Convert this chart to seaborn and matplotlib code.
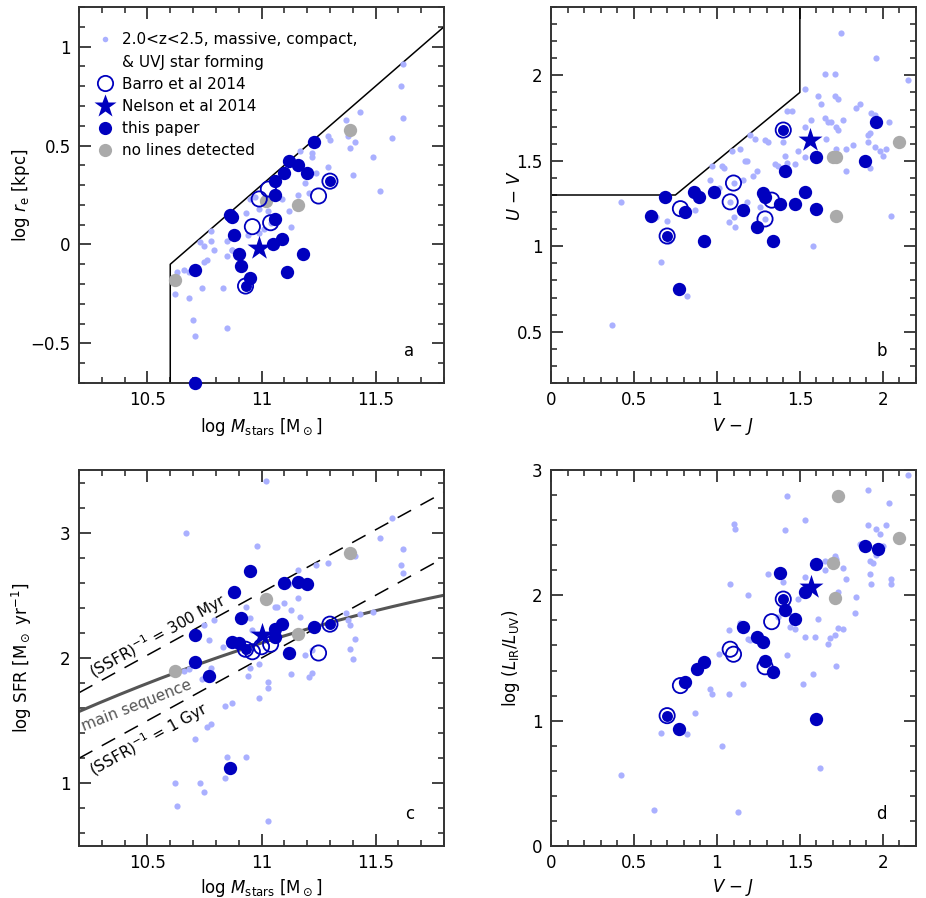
import numpy as np
import matplotlib
matplotlib.use("Agg")
import matplotlib.pyplot as plt
import seaborn as sns
from matplotlib.lines import Line2D
from matplotlib.ticker import MultipleLocator, FuncFormatter

# ---------------- data ----------------
# panel a : log M vs log r_e
a_dot_x = [11.62, 11.61, 11.62, 11.57, 11.49, 11.52, 11.40, 11.43, 11.37, 11.41, 11.39, 11.38, 11.29, 11.30, 11.22,
           11.22, 11.29, 11.24, 11.19, 11.21, 11.16, 11.09, 11.12, 11.13, 11.03, 10.99, 10.97, 10.95, 10.93, 11.01,
           11.04, 10.94, 10.99, 10.87, 11.17, 10.78, 10.73, 10.78, 10.75, 10.79, 10.85, 10.87, 10.85, 10.76, 10.75,
           10.66, 10.63, 10.68, 10.62, 10.68, 10.74, 10.83, 10.70, 10.71, 10.85]
a_dot_y = [0.91, 0.80, 0.64, 0.54, 0.44, 0.27, 0.35, 0.67, 0.63, 0.52, 0.49, 0.55, 0.55, 0.53, 0.46,
           0.44, 0.39, 0.36, 0.31, 0.26, 0.25, 0.23, 0.17, 0.09, 0.17, 0.18, 0.24, 0.23, 0.16, 0.08,
           0.11, 0.05, 0.06, -0.03, 0.47, 0.07, 0.01, 0.02, -0.01, -0.03, 0.02, -0.03, -0.06, -0.08, -0.09,
           -0.13, -0.14, -0.14, -0.25, -0.27, -0.22, -0.22, -0.38, -0.46, -0.42]
a_fill_x = [11.23, 11.12, 11.16, 11.10, 11.20, 11.06, 11.06, 10.86, 10.87, 11.06, 10.88, 11.09, 11.05, 10.90,
            11.18, 10.91, 11.11, 10.71, 10.95, 10.71]
a_fill_y = [0.52, 0.42, 0.40, 0.36, 0.36, 0.32, 0.25, 0.15, 0.14, 0.13, 0.05, 0.03, 0.00, -0.05,
            -0.05, -0.11, -0.14, -0.13, -0.17, -0.70]
a_ring_x = [10.93, 11.30]
a_ring_y = [-0.21, 0.32]
a_open_x = [11.03, 10.99, 10.96, 11.04, 11.25]
a_open_y = [0.28, 0.23, 0.09, 0.11, 0.245]
a_gray_x = [10.62, 11.02, 11.16, 11.39]
a_gray_y = [-0.18, 0.22, 0.20, 0.58]
a_star_x = [10.99]
a_star_y = [-0.02]

# panel b : V-J vs U-V
b_dot_x = [1.75, 1.96, 2.15, 1.65, 1.71, 1.53, 1.61, 1.71, 1.73, 1.63,
           1.84, 1.86, 1.93, 1.95, 2.04, 1.57, 1.65, 1.67, 1.69, 1.76,
           1.72, 1.73, 1.53, 1.42, 1.45, 1.66, 1.92, 1.91, 1.91, 1.82,
           1.78, 1.72, 1.95, 1.98, 2.02, 2.00, 1.92, 1.78, 1.49, 1.53,
           1.40, 1.41, 1.42, 1.35, 1.37, 1.47, 1.29, 1.31, 1.23, 1.20,
           1.14, 1.09, 1.17, 1.18, 1.24, 1.22, 1.16, 1.04, 0.97, 0.96,
           1.01, 1.18, 1.26, 1.10, 1.07, 1.11, 2.05, 1.58, 0.42, 0.63,
           0.70, 0.87, 1.03, 0.71, 0.66, 0.82, 0.37, 1.08, 1.29, 1.10]
b_dot_y = [2.25, 2.10, 1.97, 2.01, 2.01, 1.92, 1.88, 1.88, 1.86, 1.83,
           1.81, 1.83, 1.78, 1.77, 1.73, 1.74, 1.75, 1.73, 1.73, 1.74,
           1.70, 1.68, 1.70, 1.79, 1.79, 1.63, 1.66, 1.65, 1.61, 1.59,
           1.57, 1.57, 1.58, 1.56, 1.57, 1.53, 1.46, 1.44, 1.56, 1.52,
           1.61, 1.53, 1.49, 1.48, 1.47, 1.48, 1.62, 1.61, 1.63, 1.65,
           1.57, 1.56, 1.50, 1.50, 1.44, 1.41, 1.39, 1.46, 1.47, 1.39,
           1.34, 1.26, 1.23, 1.17, 1.14, 1.11, 1.18, 1.00, 1.26, 1.17,
           1.15, 1.21, 1.47, 1.03, 0.91, 0.71, 0.54, 1.26, 1.16, 1.37]
b_fill_x = [1.96, 1.60, 1.89, 1.41, 0.98, 1.28, 1.29, 1.53, 1.47, 1.38, 1.16, 1.60, 1.24, 0.92, 1.34,
            0.69, 0.86, 0.89, 0.81, 0.60, 0.77]
b_fill_y = [1.73, 1.52, 1.50, 1.44, 1.32, 1.31, 1.29, 1.32, 1.25, 1.25, 1.21, 1.22, 1.11, 1.03, 1.03,
            1.29, 1.32, 1.29, 1.20, 1.18, 0.75]
b_ring_x = [1.40, 0.70]
b_ring_y = [1.68, 1.06]
b_open_x = [1.10, 1.08, 1.33, 1.29, 0.78]
b_open_y = [1.37, 1.26, 1.27, 1.16, 1.22]
b_gray_x = [1.70, 1.72, 2.10, 1.72]
b_gray_y = [1.52, 1.52, 1.61, 1.18]
b_star_x = [1.56]
b_star_y = [1.62]

# panel c : log M vs log SFR
c_dot_x = [10.67, 10.98, 10.93, 10.95, 10.79, 10.75, 10.77, 10.96, 10.83, 10.66, 10.68, 10.74, 10.78, 10.84,
           10.87, 10.78, 10.76, 10.71, 10.85, 10.93, 10.84, 10.62, 10.73, 10.75, 10.63, 10.95, 10.94, 10.99,
           11.02, 11.16, 11.24, 11.29, 11.12, 11.16, 11.06, 11.07, 11.10, 11.13, 11.17, 10.99, 11.13, 11.19,
           11.22, 11.22, 11.21, 11.03, 11.03, 11.57, 11.52, 11.62, 11.61, 11.62, 11.41, 11.37, 11.38, 11.39,
           11.43, 11.49, 11.41, 11.39, 11.40, 11.03]
c_dot_y = [3.00, 2.89, 2.41, 2.32, 2.30, 2.26, 2.14, 2.22, 2.09, 1.90, 1.91, 1.83, 1.92, 1.62,
           1.64, 1.47, 1.45, 1.35, 1.21, 1.21, 1.04, 1.00, 1.00, 0.93, 0.82, 1.92, 1.86, 1.68,
           3.41, 2.70, 2.74, 2.76, 2.59, 2.48, 2.41, 2.41, 2.44, 2.38, 2.33, 1.95, 1.87, 2.02,
           2.06, 1.88, 1.85, 1.81, 1.76, 3.12, 2.96, 2.87, 2.74, 2.68, 2.81, 2.36, 2.30, 2.26,
           2.35, 2.37, 2.15, 2.07, 1.99, 0.70]
c_fill_x = [10.95, 10.88, 10.91, 10.71, 10.71, 10.77, 10.86, 10.87, 10.90, 11.10, 11.16, 11.20, 11.09,
            11.06, 11.06, 11.23, 11.12]
c_fill_y = [2.695, 2.53, 2.32, 2.18, 1.97, 1.86, 1.12, 2.13, 2.12, 2.60, 2.61, 2.59, 2.27,
            2.23, 2.17, 2.25, 2.04]
c_ring_x = [10.93, 11.30]
c_ring_y = [2.07, 2.27]
c_open_x = [11.25, 10.96, 11.00, 11.04]
c_open_y = [2.04, 2.05, 2.09, 2.11]
c_gray_x = [10.62, 11.02, 11.39, 11.16]
c_gray_y = [1.90, 2.47, 2.84, 2.19]
c_star_x = [11.00]
c_star_y = [2.18]

# panel d : V-J vs log(L_IR/L_UV)
d_dot_x = [2.15, 1.42, 1.91, 2.04, 1.53, 1.10, 1.11, 1.41, 1.91, 2.02, 1.96, 1.98, 1.86, 2.00, 1.96, 1.92, 1.94,
           1.65, 1.71, 1.72, 1.76, 1.65, 1.92, 1.78, 1.93, 2.05, 2.05, 1.40, 1.31, 1.08, 1.53, 1.73, 1.49, 1.19,
           1.84, 1.83, 1.61, 1.44, 1.47, 1.37, 1.14, 1.07, 1.19, 1.20, 1.01, 1.53, 1.59, 1.68, 1.71, 1.73, 1.76,
           1.67, 1.42, 1.72, 1.58, 1.52, 1.16, 0.96, 0.97, 1.07, 0.87, 0.66, 0.82, 1.03, 0.42, 0.62, 1.13, 1.62]
d_dot_y = [2.96, 2.79, 2.84, 2.74, 2.60, 2.57, 2.53, 2.52, 2.56, 2.56, 2.53, 2.49, 2.41, 2.39, 2.32, 2.27, 2.26,
           2.27, 2.31, 2.29, 2.22, 2.20, 2.17, 2.13, 2.09, 2.13, 2.09, 2.11, 2.17, 2.09, 2.15, 2.03, 1.97, 2.00,
           1.99, 1.86, 1.81, 1.75, 1.73, 1.83, 1.78, 1.72, 1.65, 1.64, 1.53, 1.67, 1.67, 1.66, 1.68, 1.74, 1.73,
           1.61, 1.52, 1.44, 1.37, 1.29, 1.29, 1.25, 1.21, 1.21, 1.06, 0.90, 0.89, 0.80, 0.57, 0.29, 0.27, 0.62]
d_fill_x = [1.89, 1.97, 1.60, 1.38, 1.53, 1.41, 1.47, 1.16, 1.24, 1.28, 1.29, 1.34, 0.92, 0.88, 0.81, 0.77, 1.60]
d_fill_y = [2.39, 2.37, 2.25, 2.18, 2.03, 1.88, 1.81, 1.75, 1.67, 1.63, 1.48, 1.39, 1.47, 1.41, 1.31, 0.93, 1.01]
d_ring_x = [1.40, 0.70]
d_ring_y = [1.97, 1.04]
d_open_x = [0.78, 1.08, 1.10, 1.33, 1.29]
d_open_y = [1.28, 1.57, 1.53, 1.79, 1.43]
d_gray_x = [1.73, 2.10, 1.70, 1.71]
d_gray_y = [2.79, 2.46, 2.26, 1.98]
d_star_x = [1.57]
d_star_y = [2.07]

# model lines (panel c)
ssfr_300myr = np.log10(3e8)
ssfr_1gyr = 9.0
ms_a, ms_b, ms_c = -19.99, 3.44, -0.13   # main sequence polynomial, 2.0<z<2.5

# ---------------- style ----------------
sns.set_style("ticks")
plt.rcParams.update({
    "font.family": ["DejaVu Sans"],
    "font.size": 12,
    "text.color": "black",
    "axes.labelcolor": "black",
    "axes.linewidth": 1.4,
    "axes.edgecolor": "#333333",
    "xtick.direction": "in", "ytick.direction": "in",
    "xtick.top": True, "ytick.right": True,
    "xtick.major.size": 8.5, "ytick.major.size": 8.5,
    "xtick.minor.size": 4.2, "ytick.minor.size": 4.2,
    "xtick.major.width": 1.3, "ytick.major.width": 1.3,
    "xtick.minor.width": 1.2, "ytick.minor.width": 1.2,
    "xtick.color": "#333333", "ytick.color": "#333333",
    "xtick.labelcolor": "black", "ytick.labelcolor": "black",
    "xtick.labelsize": 12, "ytick.labelsize": 12,
    "xtick.major.pad": 6, "ytick.major.pad": 6,
})

LIGHT = "#aab0ff"
BLUE = "#0000be"
GRAY = "#aaaaaa"

fig = plt.figure(figsize=(9.26, 8.98), dpi=100)
W, H = 926, 898
def axes_px(l, t, r, b):
    return fig.add_axes([l / W, 1 - b / H, (r - l) / W, (b - t) / H])

ax_a = axes_px(79, 7, 444, 383)
ax_b = axes_px(551, 7, 916, 383)
ax_c = axes_px(79, 470, 444, 846)
ax_d = axes_px(551, 470, 916, 846)

fmt = FuncFormatter(lambda v, p: f"{v:g}".replace("-", "\u2212"))


def draw(ax, dx, dy, fx, fy, rx, ry, ox, oy, gx, gy, sx, sy):
    sns.scatterplot(x=dx, y=dy, ax=ax, color=LIGHT, s=20, linewidth=0, zorder=2)
    sns.scatterplot(x=gx, y=gy, ax=ax, color=GRAY, s=92, linewidth=0, zorder=3)
    sns.scatterplot(x=fx, y=fy, ax=ax, color=BLUE, s=92, linewidth=0, zorder=4, clip_on=False)
    sns.scatterplot(x=rx, y=ry, ax=ax, color=BLUE, s=62, linewidth=0, zorder=4)
    ax.scatter(ox + rx, oy + ry, s=120, facecolors="none", edgecolors=BLUE, linewidths=1.3, zorder=5)
    sns.scatterplot(x=sx, y=sy, ax=ax, color=BLUE, marker="*", s=330, linewidth=0, zorder=6)


draw(ax_a, a_dot_x, a_dot_y, a_fill_x, a_fill_y, a_ring_x, a_ring_y, a_open_x, a_open_y,
     a_gray_x, a_gray_y, a_star_x, a_star_y)
draw(ax_b, b_dot_x, b_dot_y, b_fill_x, b_fill_y, b_ring_x, b_ring_y, b_open_x, b_open_y,
     b_gray_x, b_gray_y, b_star_x, b_star_y)
draw(ax_c, c_dot_x, c_dot_y, c_fill_x, c_fill_y, c_ring_x, c_ring_y, c_open_x, c_open_y,
     c_gray_x, c_gray_y, c_star_x, c_star_y)
draw(ax_d, d_dot_x, d_dot_y, d_fill_x, d_fill_y, d_ring_x, d_ring_y, d_open_x, d_open_y,
     d_gray_x, d_gray_y, d_star_x, d_star_y)

# selection boxes
ax_a.plot([10.6, 10.6, 11.8], [-0.7, -0.1, 1.1], color="black", lw=1.1, zorder=1)
ax_b.plot([0, 0.75, 1.5, 1.5], [1.3, 1.3, 1.9, 2.4], color="black", lw=1.1, zorder=1)

# panel c lines
mgrid = np.linspace(10.2, 11.8, 200)
ax_c.plot(mgrid, mgrid - ssfr_300myr, color="black", lw=1.1, ls=(0, (10, 7)), zorder=1)
ax_c.plot(mgrid, mgrid - ssfr_1gyr, color="black", lw=1.1, ls=(0, (10, 7)), zorder=1)
ax_c.plot(mgrid, ms_a + ms_b * mgrid + ms_c * mgrid ** 2, color="#555555", lw=2.2, zorder=1)
ax_c.text(10.557, 2.135, "(SSFR)$^{-1}$ = 300 Myr", rotation=29, ha="center", va="baseline",
          rotation_mode="anchor", fontsize=11)
ax_c.text(10.462, 1.59, "main sequence", rotation=21.5, ha="center", va="baseline",
          rotation_mode="anchor", fontsize=11, color="#555555")
ax_c.text(10.519, 1.315, "(SSFR)$^{-1}$ = 1 Gyr", rotation=29, ha="center", va="baseline",
          rotation_mode="anchor", fontsize=11)

# limits & ticks
for ax, xl, yl, xmaj, xmin, ymaj, ymin in [
        (ax_a, (10.2, 11.8), (-0.7, 1.2), 0.5, 0.1, 0.5, 0.1),
        (ax_b, (0, 2.2), (0.2, 2.4), 0.5, 0.1, 0.5, 0.1),
        (ax_c, (10.2, 11.8), (0.5, 3.5), 0.5, 0.1, 1.0, 0.2),
        (ax_d, (0, 2.2), (0, 3.0), 0.5, 0.1, 1.0, 0.2)]:
    ax.set_xlim(*xl)
    ax.set_ylim(*yl)
    ax.xaxis.set_major_locator(MultipleLocator(xmaj))
    ax.xaxis.set_minor_locator(MultipleLocator(xmin))
    ax.yaxis.set_major_locator(MultipleLocator(ymaj))
    ax.yaxis.set_minor_locator(MultipleLocator(ymin))
    ax.xaxis.set_major_formatter(fmt)
    ax.yaxis.set_major_formatter(fmt)
    ax.tick_params(which="both", top=True, right=True)

mlabel = r"log $M_{\rm stars}$ [M$_\odot$]"
ax_a.set_xlabel(mlabel, fontsize=12)
ax_a.set_ylabel(r"log $r_{\rm e}$ [kpc]", fontsize=12)
ax_b.set_xlabel(r"$V$ $-$ $J$", fontsize=12)
ax_b.set_ylabel(r"$U$ $-$ $V$", fontsize=12)
ax_c.set_xlabel(mlabel, fontsize=12)
ax_c.set_ylabel(r"log SFR [M$_\odot$ yr$^{-1}$]", fontsize=12)
ax_d.set_xlabel(r"$V$ $-$ $J$", fontsize=12)
ax_d.set_ylabel(r"log ($L_{\rm IR}$/$L_{\rm UV}$)", fontsize=12)

ax_a.yaxis.set_label_coords(-0.128, 0.5)
ax_b.yaxis.set_label_coords(-0.075, 0.5)
ax_c.yaxis.set_label_coords(-0.122, 0.5)
ax_d.yaxis.set_label_coords(-0.080, 0.5)
for ax in (ax_a, ax_b):
    ax.xaxis.set_label_coords(0.5, -0.088)
for ax in (ax_c, ax_d):
    ax.xaxis.set_label_coords(0.5, -0.082)

for ax, lab in [(ax_a, "a"), (ax_b, "b"), (ax_c, "c"), (ax_d, "d")]:
    ax.text(0.905, 0.085, lab, transform=ax.transAxes, fontsize=12, ha="center", va="center")

# legend
handles = [
    Line2D([], [], ls="none", marker="o", ms=4, mfc=LIGHT, mec="none"),
    Line2D([], [], ls="none", marker="none"),
    Line2D([], [], ls="none", marker="o", ms=11, mfc="none", mec=BLUE, mew=1.3),
    Line2D([], [], ls="none", marker="*", ms=17, mfc=BLUE, mec="none"),
    Line2D([], [], ls="none", marker="o", ms=9.5, mfc=BLUE, mec="none"),
    Line2D([], [], ls="none", marker="o", ms=9.5, mfc=GRAY, mec="none"),
]
labels = ["2.0<z<2.5, massive, compact,", "& UVJ star forming", "Barro et al 2014",
          "Nelson et al 2014", "this paper", "no lines detected"]
ax_a.legend(handles, labels, loc="upper left", frameon=False, fontsize=11,
            handlelength=1.0, handletextpad=0.6, labelspacing=0.47,
            borderaxespad=0.2, bbox_to_anchor=(0.025, 0.957))

fig.savefig("out.png", dpi=100)
